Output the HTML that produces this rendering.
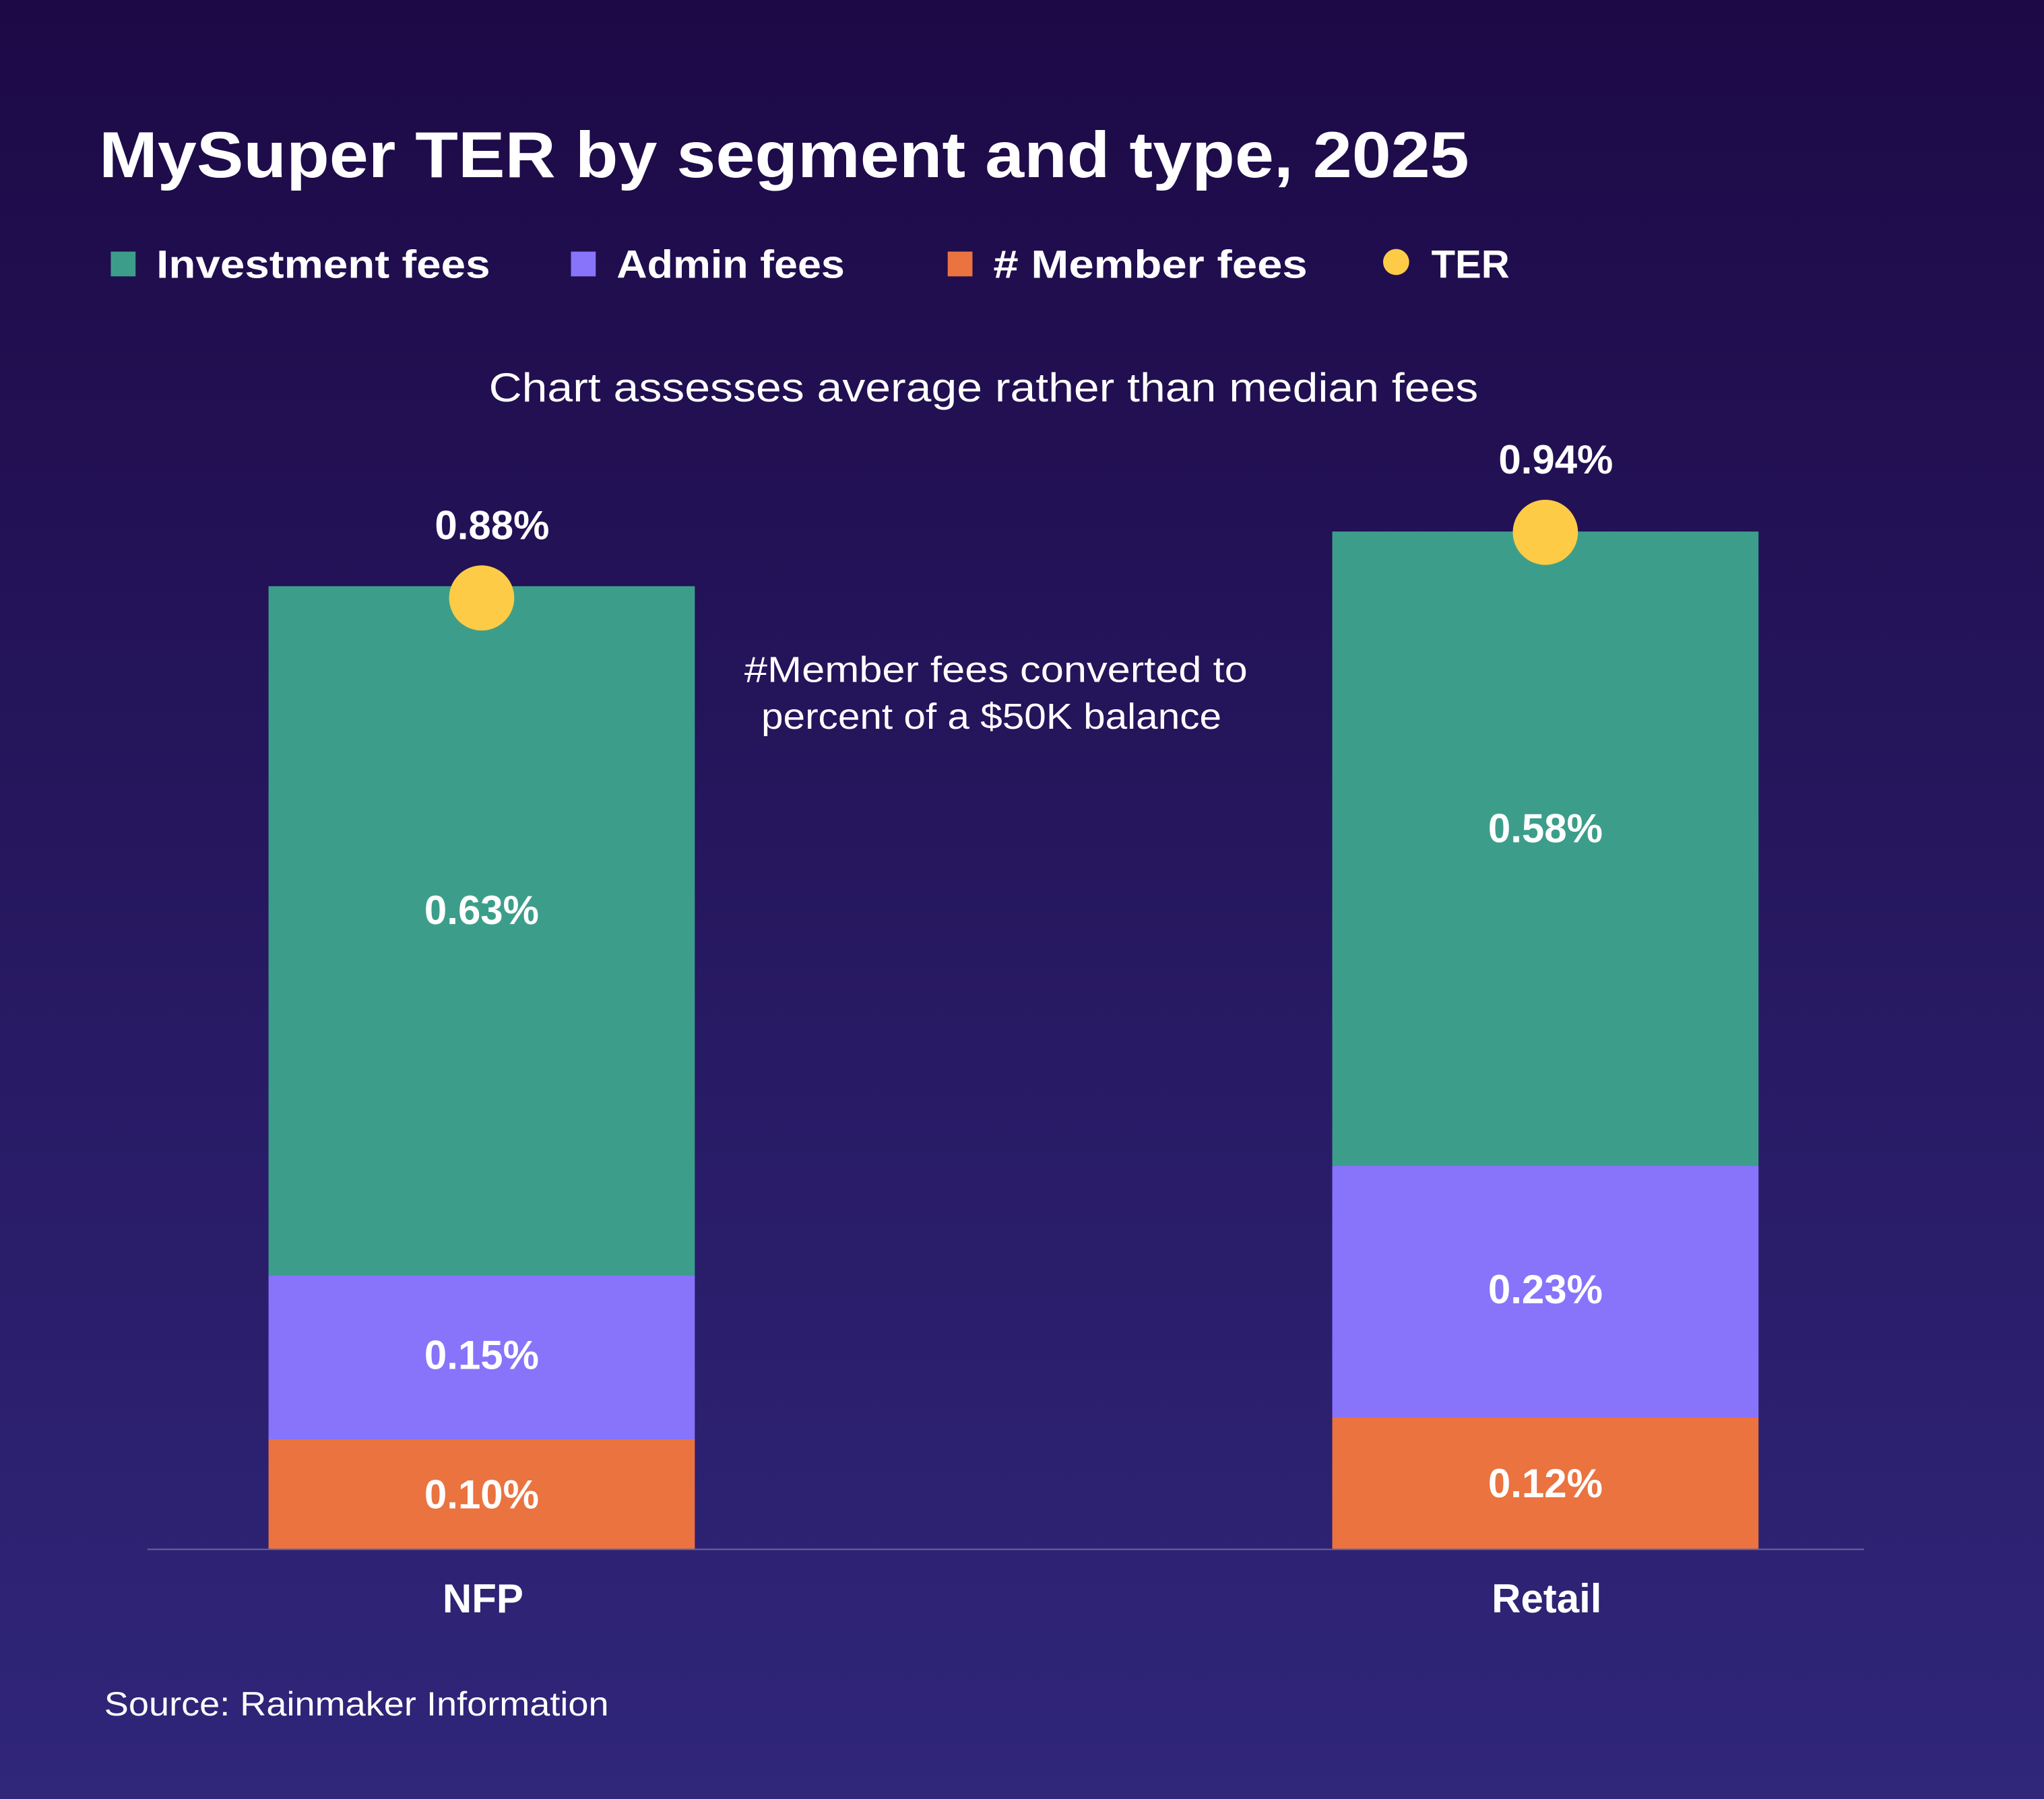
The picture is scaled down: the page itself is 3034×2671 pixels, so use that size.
<!DOCTYPE html>
<html><head><meta charset="utf-8"><style>
html,body{margin:0;padding:0;}
body{width:3034px;height:2671px;overflow:hidden;}
svg{display:block;font-family:"Liberation Sans",Arial,sans-serif;}
</style></head><body>
<svg id="chart" width="3034" height="2671" viewBox="0 0 1568 1380" preserveAspectRatio="none" xmlns="http://www.w3.org/2000/svg">
<defs><linearGradient id="bg" x1="0" y1="0" x2="0" y2="1"><stop offset="0" stop-color="#1d0946"/><stop offset="1" stop-color="#30267a"/></linearGradient></defs>
<rect width="1568" height="1380" fill="url(#bg)"/>
<text x="76" y="136" fill="#fff" font-size="50" font-weight="bold" textLength="1051" lengthAdjust="spacingAndGlyphs">MySuper TER by segment and type, 2025</text>
<g font-size="30" font-weight="bold" fill="#fff">
<g><rect x="85" y="193" width="19" height="19" fill="#3c9e8a"/><text x="120" y="213" textLength="256" lengthAdjust="spacingAndGlyphs">Investment fees</text></g>
<g><rect x="438" y="193" width="19" height="19" fill="#8774fb"/><text x="473" y="213" textLength="175" lengthAdjust="spacingAndGlyphs">Admin fees</text></g>
<g><rect x="727" y="193" width="19" height="19" fill="#ea7340"/><text x="762" y="213" textLength="241" lengthAdjust="spacingAndGlyphs"># Member fees</text></g>
<g><circle cx="1071" cy="201" r="10" fill="#fecb47"/><text x="1098" y="213" textLength="60" lengthAdjust="spacingAndGlyphs">TER</text></g>
</g>
<text x="375" y="308" fill="#fff" font-size="31" textLength="759" lengthAdjust="spacingAndGlyphs">Chart assesses average rather than median fees</text>
<g fill="#fff" font-size="28"><text x="571" y="523" textLength="386" lengthAdjust="spacingAndGlyphs">#Member fees converted to</text><text x="584" y="559" textLength="353" lengthAdjust="spacingAndGlyphs">percent of a $50K balance</text></g>
<line x1="113" y1="1188.5" x2="1430" y2="1188.5" stroke="#6a6596" stroke-width="1"/>
<g id="bars"></g>
<text x="80" y="1316" fill="#fff" font-size="26" textLength="387" lengthAdjust="spacingAndGlyphs">Source: Rainmaker Information</text>
</svg>
<script>
const categories = ["NFP", "Retail"];
const memberFees = [0.10, 0.12];
const adminFees = [0.15, 0.23];
const investmentFees = [0.63, 0.58];
const ter = [0.88, 0.94];
const labelsMember = ["0.10%", "0.12%"];
const labelsAdmin = ["0.15%", "0.23%"];
const labelsInvest = ["0.63%", "0.58%"];
const labelsTer = ["0.88%", "0.94%"];

const NS = "http://www.w3.org/2000/svg";
const baseY = 1188, pxPer = 839;
const y = v => baseY - v * pxPer;
const xLeft = i => 206 + i * 816;
const barW = 327;
const g = document.getElementById("bars");
function mk(tag, attrs){const e=document.createElementNS(NS,tag);for(const k in attrs)e.setAttribute(k,attrs[k]);g.appendChild(e);return e;}
categories.forEach((c,i)=>{
  const x = xLeft(i), cx = x + barW/2;
  const segs = [[memberFees[i],"#ea7340",labelsMember[i],"member",0],[adminFees[i],"#8774fb",labelsAdmin[i],"admin",-2],[investmentFees[i],"#3c9e8a",labelsInvest[i],"investment",-16]];
  let acc = 0;
  segs.forEach(s=>{
    const r = mk("rect",{x:x,y:y(acc+s[0]),width:barW,height:s[0]*pxPer,fill:s[1]});
    
    
    const t = mk("text",{x:cx,y:y(acc+s[0]/2)+11+s[4],fill:"#fff","font-size":"31","font-weight":"bold","text-anchor":"middle"});
    t.textContent = s[2];
    
    
    acc += s[0];
  });
  const dy = y(ter[i]) + 9;
  const d = mk("circle",{cx:cx,cy:dy,r:25,fill:"#fecb47"});
  
  
  const tl = mk("text",{x:cx+8,y:dy-45,fill:"#fff","font-size":"31","font-weight":"bold","text-anchor":"middle"});
  tl.textContent = labelsTer[i];
  
  
  const cl = mk("text",{x:cx+1,y:1237,fill:"#fff","font-size":"31","font-weight":"bold","text-anchor":"middle"});
  cl.textContent = c;
  
  
});
</script>
</body></html>
